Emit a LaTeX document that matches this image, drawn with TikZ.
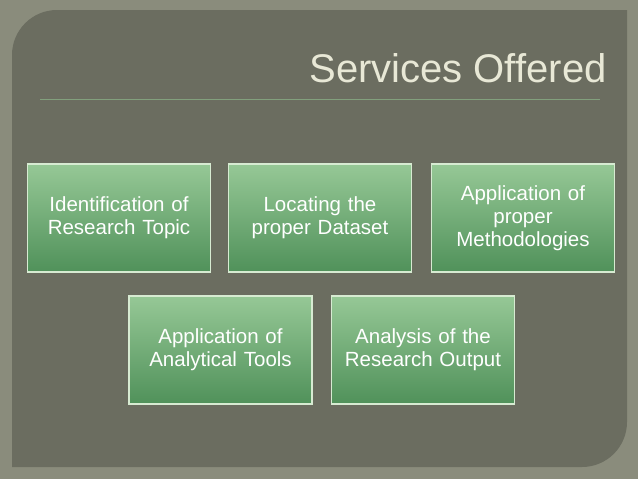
\documentclass[tikz,border=0pt]{standalone}
\usepackage{fontspec}
\setmainfont{Liberation Sans}
\begin{document}
\begin{tikzpicture}[x=1pt,y=-1pt]
\definecolor{gtop}{RGB}{150,200,150}\definecolor{gbot}{RGB}{80,145,90}
\tikzset{card/.style={draw={rgb,255:red,215;green,235;blue,210},line width=1.2pt,top color=gtop,bottom color=gbot,
    minimum width=183pt,minimum height=108pt,text width=180pt,align=center,text=white,font=\fontsize{20.5}{23}\selectfont,inner sep=0pt}}
\useasboundingbox (0,0) rectangle (638,479);
\fill[fill={rgb,255:red,138;green,140;blue,124}] (0,0) rectangle (638,479);
\fill[fill={rgb,255:red,107;green,109;blue,96}] (12,55) -- (12,467) -- (582,467) arc[start angle=90,end angle=0,radius=45] -- (627,10) -- (57,10) arc[start angle=270,end angle=180,radius=45] -- cycle;
\node (title) at (458,68) {\textcolor[RGB]{232,232,214}{\fontsize{40}{42}\selectfont Services Offered}};
\coordinate (l1) at (40,99); \coordinate (l2) at (600,99);
\draw[color={rgb,255:red,130;green,160;blue,125},line width=0.8pt] (l1) -- (l2);
\node[card] (a) at (119,218) {Identification of\\Research Topic};
\node[card] (b) at (320,218) {Locating the\\proper Dataset};
\node[card] (c) at (523,218) {Application of\\proper\\Methodologies};
\node[card] (d) at (220.5,350) {Application of\\Analytical Tools};
\node[card] (e) at (423,350) {Analysis of the\\Research Output};
\end{tikzpicture}
\end{document}
